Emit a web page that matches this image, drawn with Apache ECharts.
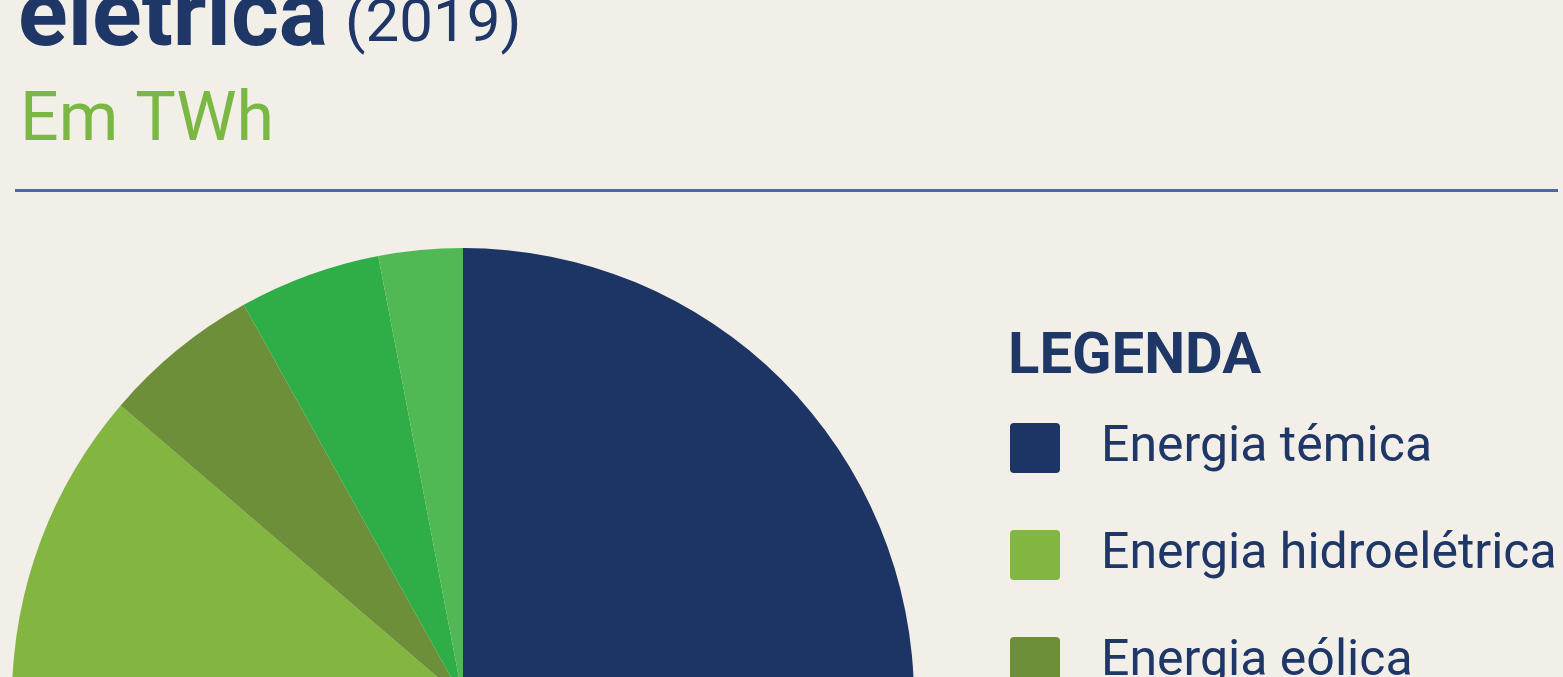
<!DOCTYPE html>
<html>
<head>
<meta charset="utf-8">
<script src="https://cdn.jsdelivr.net/npm/echarts@6/dist/echarts.min.js"></script>
<style>
  html, body { margin: 0; padding: 0; background: #f2eee8; }
  #chart { width: 1563px; height: 677px; }
</style>
</head>
<body>
<div id="chart"></div>
<script>
// fontes de energia (estimadas a partir da figura), em TWh
const categorias = ['Energia témica', 'Energia hidroelétrica', 'Energia eólica', 'Energia solar', 'Outras']
const valores = [640, 223, 56.4, 50.7, 30.1]
const cores = ['#1d3564', '#83b541', '#6e8f39', '#2fad47', '#51b953']

const navy = '#1e3767'
const chart = echarts.init(document.getElementById('chart'))

chart.setOption({
  backgroundColor: '#f2eee8',
  animation: false,
  color: cores,
  graphic: [
    {
      type: 'text', left: 18, top: -24,
      style: { text: 'elétrica', fill: navy, font: 'bold 92px Roboto' }
    },
    {
      type: 'text', left: 345, top: -4,
      style: { text: '(2019)', fill: navy, font: '60px Roboto' }
    },
    {
      type: 'text', left: 20, top: 89,
      style: { text: 'Em TWh', fill: '#7ab843', font: '68px Roboto' }
    },
    {
      type: 'rect', shape: { x: 15, y: 189, width: 1543, height: 3 },
      style: { fill: '#4a6b9b' }
    },
    {
      type: 'text', left: 1008, top: 329,
      style: { text: 'LEGENDA', fill: navy, font: 'bold 58px Roboto' }
    }
  ],
  legend: {
    orient: 'vertical',
    left: 1005,
    top: 418,
    height: 2000,
    icon: 'path://M4,0H46Q50,0 50,4V46Q50,50 46,50H4Q0,50 0,46V4Q0,0 4,0Z',
    itemWidth: 50,
    itemHeight: 50,
    itemGap: 57,
    selectedMode: false,
    data: categorias,
    textStyle: {
      color: navy,
      fontSize: 50,
      fontFamily: 'Roboto',
      padding: [8, 0, 0, 36]
    }
  },
  series: [
    {
      type: 'pie',
      center: [463, 699],
      radius: 451,
      startAngle: 90,
      clockwise: true,
      label: { show: false },
      labelLine: { show: false },
      silent: true,
      itemStyle: { borderWidth: 0 },
      data: categorias.map((nome, i) => ({ name: nome, value: valores[i] }))
    }
  ]
})
</script>
</body>
</html>
